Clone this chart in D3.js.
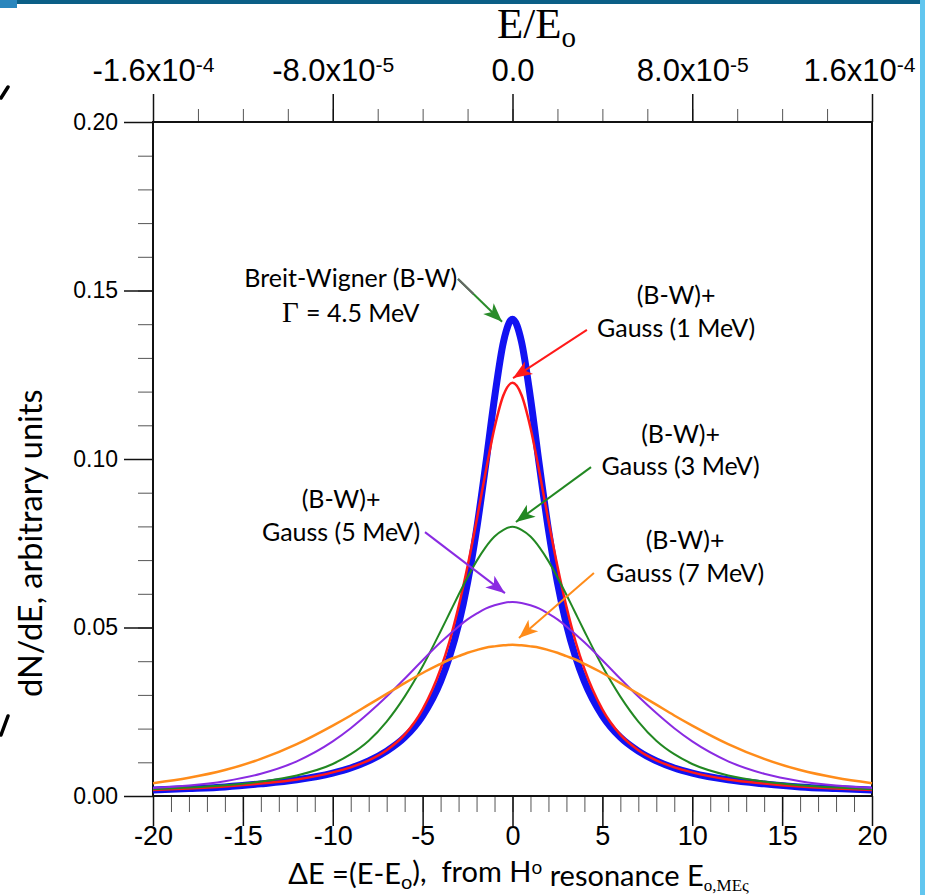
<!DOCTYPE html>
<html>
<head>
<meta charset="utf-8">
<script src="https://cdn.jsdelivr.net/npm/d3@7"></script>
<style>
  body { margin: 0; background: #fff; }
  svg { display: block; }
</style>
</head>
<body>
<div id="chart"></div>
<script>
// energy offset from resonance, MeV
const deltaE = [-20,-18,-16,-14,-12,-10,-9,-8,-7,-6,-5,-4,-3.5,-3,-2.5,-2,-1.5,-1,-0.5,0,
  0.5,1,1.5,2,2.5,3,3.5,4,5,6,7,8,9,10,12,14,16,18,20];

// dN/dE
const breitWigner = [0.0018,0.0022,0.0027,0.0036,0.0048,0.0068,0.0083,0.0104,0.0133,0.0174,0.0238,0.0340,0.0414,0.0509,0.0633,0.0790,0.0979,0.1181,0.1348,0.1415,
  0.1348,0.1181,0.0979,0.0790,0.0633,0.0509,0.0414,0.0340,0.0238,0.0174,0.0133,0.0104,0.0083,0.0068,0.0048,0.0036,0.0027,0.0022,0.0018];
const gauss1 = [0.0018,0.0022,0.0028,0.0037,0.0049,0.0070,0.0085,0.0106,0.0136,0.0182,0.0257,0.0377,0.0460,0.0562,0.0682,0.0817,0.0960,0.1093,0.1190,0.1226,
  0.1190,0.1093,0.0960,0.0817,0.0682,0.0562,0.0460,0.0377,0.0257,0.0182,0.0136,0.0106,0.0085,0.0070,0.0049,0.0037,0.0028,0.0022,0.0018];
const gauss3 = [0.0020,0.0025,0.0032,0.0043,0.0061,0.0095,0.0124,0.0164,0.0221,0.0295,0.0385,0.0489,0.0543,0.0597,0.0649,0.0697,0.0738,0.0770,0.0790,0.0799,
  0.0790,0.0770,0.0738,0.0697,0.0649,0.0597,0.0543,0.0489,0.0385,0.0295,0.0221,0.0164,0.0124,0.0095,0.0061,0.0043,0.0032,0.0025,0.0020];
const gauss5 = [0.0024,0.0031,0.0044,0.0066,0.0103,0.0162,0.0201,0.0246,0.0295,0.0348,0.0403,0.0456,0.0480,0.0503,0.0524,0.0541,0.0556,0.0566,0.0573,0.0576,
  0.0573,0.0566,0.0556,0.0541,0.0524,0.0503,0.0480,0.0456,0.0403,0.0348,0.0295,0.0246,0.0201,0.0162,0.0103,0.0066,0.0044,0.0031,0.0024];
const gauss7 = [0.0038,0.0054,0.0077,0.0110,0.0154,0.0209,0.0239,0.0271,0.0303,0.0335,0.0365,0.0392,0.0405,0.0415,0.0425,0.0433,0.0440,0.0444,0.0447,0.0449,
  0.0447,0.0444,0.0440,0.0433,0.0425,0.0415,0.0405,0.0392,0.0365,0.0335,0.0303,0.0271,0.0239,0.0209,0.0154,0.0110,0.0077,0.0054,0.0038];

// ticks
const xTicks = [-20,-15,-10,-5,0,5,10,15,20];
const yTicks = [0,0.05,0.10,0.15,0.20];
const topTicks = [-1.6e-4,-8e-5,0,8e-5,1.6e-4];
const topLabels = [["-1.6x10","-4"],["-8.0x10","-5"],["0.0",""],["8.0x10","-5"],["1.6x10","-4"]];

// annotation labels: [lines], anchor in data units, arrow from -> to
const notes = [
  { lines: ["Breit-Wigner (B-W)", "= 4.5 MeV"], at: [-9.0, 0.1537], gap: 0.0104, color: "#2a8c2a", from: [-3.03, 0.1534], to: [-0.58, 0.1407] },
  { lines: ["(B-W)+", "Gauss (1 MeV)"], at: [9.1, 0.1487], gap: 0.0098, color: "#ff1a1a", from: [4.14, 0.1383], to: [0.03, 0.1240] },
  { lines: ["(B-W)+", "Gauss (3 MeV)"], at: [9.35, 0.1074], gap: 0.0095, color: "#228822", from: [4.37, 0.0976], to: [0.19, 0.0813] },
  { lines: ["(B-W)+", "Gauss (5 MeV)"], at: [-9.54, 0.0881], gap: 0.0098, color: "#8a2be2", from: [-4.87, 0.0783], to: [-0.42, 0.0602] },
  { lines: ["(B-W)+", "Gauss (7 MeV)"], at: [9.6, 0.0760], gap: 0.0098, color: "#ff8c1a", from: [4.53, 0.0662], to: [0.36, 0.0469] }
];

const series = [
  { values: breitWigner, color: "#1212f2", width: 7 },
  { values: gauss1, color: "#ff1a1a", width: 2.5 },
  { values: gauss3, color: "#228822", width: 2 },
  { values: gauss5, color: "#8a2be2", width: 2 },
  { values: gauss7, color: "#ff8c1a", width: 2.5 }
];

const width = 925, height = 895;
const margin = { top: 122, right: 53, bottom: 99, left: 153 };
const tickFont = "'Liberation Sans', Arial, Helvetica, sans-serif";
const textFont = "Lato, 'Open Sans', sans-serif";
const serifFont = "'Liberation Serif', 'Times New Roman', serif";
const fmtX = d => String(d);   // plain hyphen minus like the original

const svg = d3.select("#chart").append("svg")
  .attr("width", width)
  .attr("height", height);

const x = d3.scaleLinear().domain([-20, 20]).range([margin.left, width - margin.right]);
const y = d3.scaleLinear().domain([0, 0.2]).range([height - margin.bottom, margin.top]);
const xTop = d3.scaleLinear().domain([-1.6e-4, 1.6e-4]).range(x.range());

function styleAxis(g, fontSize) {
  g.select(".domain").remove();
  g.selectAll("line").attr("stroke", "#111");
  g.selectAll("text").attr("fill", "#000");
  g.attr("font-family", tickFont).attr("font-size", fontSize);
}

// minor ticks first, majors on top
svg.append("g")
  .attr("transform", `translate(${margin.left},0)`)
  .call(d3.axisLeft(y).tickValues(d3.range(0, 0.2001, 0.01)).tickSize(15).tickFormat(""))
  .call(g => styleAxis(g, 10))
  .selectAll("line").attr("stroke-width", 1).attr("stroke", "#555");

svg.append("g")
  .attr("transform", `translate(${margin.left},0)`)
  .call(d3.axisLeft(y).tickValues(yTicks).tickSize(29).tickPadding(6).tickFormat(d3.format(".2f")))
  .call(g => styleAxis(g, 23))
  .selectAll("line").attr("stroke-width", 1.5);

svg.append("g")
  .attr("transform", `translate(0,${height - margin.bottom})`)
  .call(d3.axisBottom(x).tickValues(d3.range(-20, 20.5, 1)).tickSize(16).tickFormat(""))
  .call(g => styleAxis(g, 10))
  .selectAll("line").attr("stroke-width", 1).attr("stroke", "#555");

svg.append("g")
  .attr("transform", `translate(0,${height - margin.bottom})`)
  .call(d3.axisBottom(x).tickValues(xTicks).tickSize(30).tickPadding(0).tickFormat(fmtX))
  .call(g => styleAxis(g, 27))
  .selectAll("line").attr("stroke-width", 1.5);

svg.append("g")
  .attr("transform", `translate(0,${margin.top})`)
  .call(d3.axisTop(xTop).tickValues(d3.range(-8, 8.5, 1).map(d => d * 2e-5)).tickSize(13).tickFormat(""))
  .call(g => styleAxis(g, 10))
  .selectAll("line").attr("stroke-width", 1).attr("stroke", "#555");

const topAxis = svg.append("g")
  .attr("transform", `translate(0,${margin.top})`)
  .call(d3.axisTop(xTop).tickValues(topTicks).tickSize(28).tickPadding(13).tickFormat(""))
  .call(g => styleAxis(g, 31));
topAxis.selectAll("line").attr("stroke-width", 1.5);

// powers of ten as superscripts; the last one is nudged in so it stays on the page
topAxis.selectAll(".tick text").each(function(d, i) {
  const t = d3.select(this);
  if (i === topLabels.length - 1) t.attr("dx", -13);
  t.append("tspan").text(topLabels[i][0]);
  if (topLabels[i][1]) {
    t.append("tspan").attr("dy", "-0.42em").attr("font-size", "0.68em").text(topLabels[i][1]);
  }
});

// frame
svg.append("rect")
  .attr("x", margin.left).attr("y", margin.top)
  .attr("width", width - margin.left - margin.right)
  .attr("height", height - margin.top - margin.bottom)
  .attr("fill", "none").attr("stroke", "#111").attr("stroke-width", 2);

// curves
const line = d3.line()
  .x((d, i) => x(deltaE[i]))
  .y(d => y(d))
  .curve(d3.curveMonotoneX);

svg.append("g").selectAll("path")
  .data(series)
  .join("path")
  .attr("d", d => line(d.values))
  .attr("fill", "none")
  .attr("stroke", d => d.color)
  .attr("stroke-width", d => d.width)
  .attr("stroke-linejoin", "round");

// arrow heads, one per colour
const defs = svg.append("defs");
notes.forEach((n, i) => {
  defs.append("marker")
    .attr("id", "head" + i)
    .attr("markerUnits", "userSpaceOnUse")
    .attr("viewBox", "-20 -9 22 18")
    .attr("markerWidth", 22).attr("markerHeight", 18)
    .attr("refX", 0).attr("refY", 0)
    .attr("orient", "auto")
    .append("path")
    .attr("d", "M0,0L-19,-7.5L-14,0L-19,7.5Z")
    .attr("fill", n.color);
});

const ann = svg.append("g").attr("font-family", textFont).attr("font-size", 25).attr("fill", "#000");

notes.forEach((n, i) => {
  n.lines.forEach((s, j) => {
    const t = ann.append("text")
      .attr("x", x(n.at[0]))
      .attr("y", y(n.at[1] - j * n.gap))
      .attr("dy", "0.35em")
      .attr("text-anchor", "middle");
    if (i === 0 && j === 1) {
      t.append("tspan").attr("font-family", serifFont).attr("font-size", 29).text("Γ ");
    }
    t.append("tspan").text(s);
  });

  const x1 = x(n.from[0]), y1 = y(n.from[1]), x2 = x(n.to[0]), y2 = y(n.to[1]);
  ann.append("line")
    .attr("x1", x1).attr("y1", y1).attr("x2", x2).attr("y2", y2)
    .attr("stroke", n.color).attr("stroke-width", 2)
    .attr("marker-end", `url(#head${i})`);
  if (i === 0) {
    // grey lead-in next to the text
    ann.append("line")
      .attr("x1", x1).attr("y1", y1)
      .attr("x2", x1 + (x2 - x1) * 0.35).attr("y2", y1 + (y2 - y1) * 0.35)
      .attr("stroke", "#666").attr("stroke-width", 2);
  }
});

// axis titles
const topTitle = svg.append("text")
  .attr("x", x(0) + 24).attr("y", 38)
  .attr("text-anchor", "middle")
  .attr("font-family", serifFont)
  .attr("font-size", 43).attr("fill", "#000");
topTitle.append("tspan").text("E/E");
topTitle.append("tspan").attr("dy", "0.3em").attr("font-size", 29).text("o");

const xTitle = svg.append("text")
  .attr("x", x(0) + 6).attr("y", 884)
  .attr("text-anchor", "middle")
  .attr("font-family", textFont)
  .attr("font-size", 29).attr("fill", "#000")
  .style("white-space", "pre");
xTitle.append("tspan").text("ΔE =(E-E");
xTitle.append("tspan").attr("dy", "0.25em").attr("font-size", 20).text("o");
xTitle.append("tspan").attr("dy", "-0.25em").text("),  from H");
xTitle.append("tspan").attr("dy", "-0.4em").attr("font-size", 19).text("o");
xTitle.append("tspan").attr("dy", "0.4em").text(" resonance E");
xTitle.append("tspan").attr("dy", "0.28em").attr("font-size", 17)
  .attr("font-family", serifFont).text("o,MEς");

svg.append("text")
  .attr("transform", `translate(42,${y(0.075)}) rotate(-90)`)
  .attr("text-anchor", "middle")
  .attr("font-family", textFont)
  .attr("font-size", 32.5).attr("fill", "#000")
  .text("dN/dE, arbitrary units");

// slide leftovers around the picture, drawn last so they overlap like in the original
svg.append("rect").attr("x", 17).attr("y", 0).attr("width", 908).attr("height", 4).attr("fill", "#0b5f86");
svg.append("rect").attr("x", 0).attr("y", 0).attr("width", 17).attr("height", 8).attr("fill", "#2a86bd");
svg.append("rect").attr("x", 920).attr("y", 0).attr("width", 5).attr("height", height).attr("fill", "#62c6ef");
svg.append("path").attr("d", "M1,98L8,87").attr("stroke", "#000").attr("stroke-width", 3.5).attr("stroke-linecap", "round");
svg.append("path").attr("d", "M1,735L8,716").attr("stroke", "#000").attr("stroke-width", 3.5).attr("stroke-linecap", "round");
</script>
</body>
</html>
